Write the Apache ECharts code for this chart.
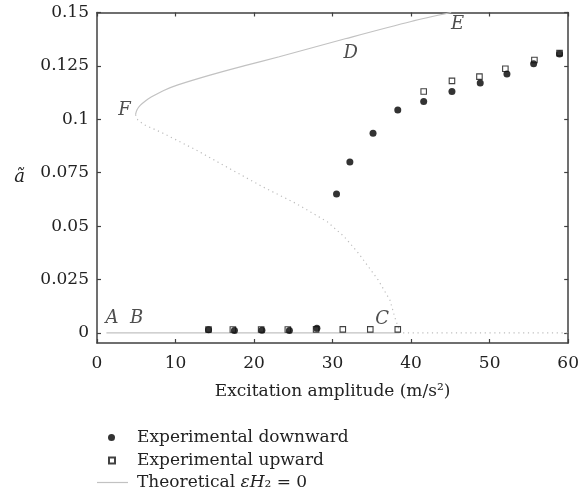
<!DOCTYPE html>
<html>
<head>
<meta charset="utf-8">
<script src="https://cdn.jsdelivr.net/npm/echarts@6/dist/echarts.min.js"></script>
<style>html,body{margin:0;padding:0;background:#fff;}#c{width:582px;height:495px;}</style>
</head>
<body>
<div id="c"></div>
<script>
// ---- data ----
const xTicks = [0, 10, 20, 30, 40, 50, 60];
const yTicks = [0, 0.025, 0.05, 0.075, 0.1, 0.125, 0.15];
const yTickLabels = ['0', '0.025', '0.05', '0.075', '0.1', '0.125', '0.15'];

const downward = [
  [14.2, 0.0015], [17.5, 0.0011], [21.0, 0.0013], [24.5, 0.0011], [28.0, 0.0022],
  [30.5, 0.0651], [32.2, 0.0800], [35.15, 0.0935], [38.3, 0.1044], [41.6, 0.1083],
  [45.2, 0.1130], [48.8, 0.1170], [52.2, 0.1212], [55.6, 0.1260], [58.9, 0.1306]
];
const upward = [
  [14.2, 0.0016], [17.3, 0.0016], [20.9, 0.0016], [24.3, 0.0016], [27.9, 0.0017],
  [31.3, 0.0017], [34.8, 0.0017], [38.3, 0.0017],
  [41.6, 0.1130], [45.2, 0.1180], [48.7, 0.1200], [52.0, 0.1237], [55.7, 0.1278], [58.9, 0.1310]
];
const theoryUpper = [
  [4.9, 0.1022], [5.1, 0.1045], [5.5, 0.1065], [6.2, 0.1087], [6.9, 0.1104], [8.5, 0.1135],
  [10.3, 0.1161], [14.5, 0.1208], [18.7, 0.1250], [23.2, 0.1293], [31.6, 0.1377],
  [40.0, 0.1458], [45.1, 0.1500]
];
const theoryZero = [[1.2, 0], [38.5, 0]];
const theoryUnstable = [
  [4.9, 0.1022], [5.2, 0.0997], [6.0, 0.0975], [8.4, 0.0935], [12.6, 0.0857], [16.8, 0.0771],
  [21.05, 0.0685], [25.3, 0.0607], [29.3, 0.0521], [31.5, 0.0450], [33.3, 0.0373],
  [35.8, 0.0248], [37.3, 0.0154], [37.9, 0.0076], [38.4, 0.0022], [38.5, 0], [60, 0]
];
const pointLabels = [
  ['A', 1.9, 0.0070], ['B', 5.06, 0.0070], ['C', 36.3, 0.0066],
  ['D', 32.3, 0.1310], ['E', 45.9, 0.1446], ['F', 3.5, 0.1044]
];
const names = {
  down: 'Experimental downward',
  up: 'Experimental upward',
  theory: 'Theoretical εH₂ = 0',
  unstable: 'Theoretical (unstable)'
};

// ---- chart ----
const FONT = 'DejaVu Serif';
const TXT = '#222';
const AX = '#404040';
const chart = echarts.init(document.getElementById('c'), null, { renderer: 'canvas' });

const axLine = { show: true, onZero: false, lineStyle: { color: AX, width: 1.5 } };
const tick = { show: true, inside: true, length: 4, lineStyle: { color: AX, width: 1.2 } };
const yMin = -0.0047, yMax = 0.15;

chart.setOption({
  animation: false,
  backgroundColor: '#fff',
  grid: { left: 97, right: 11, top: 12.5, bottom: 152, containLabel: false },
  xAxis: [
    {
      type: 'value', min: 0, max: 60, interval: 10, position: 'bottom',
      axisLine: axLine, axisTick: tick,
      axisLabel: { show: true, margin: 12, color: TXT, fontFamily: FONT, fontSize: 17 },
      splitLine: { show: false },
      name: 'Excitation amplitude (m/s²)', nameLocation: 'middle', nameGap: 40,
      nameTextStyle: { color: TXT, fontFamily: FONT, fontSize: 17 }
    },
    {
      type: 'value', min: 0, max: 60, interval: 10, position: 'top',
      axisLine: axLine, axisTick: tick,
      axisLabel: { show: false }, splitLine: { show: false }
    }
  ],
  yAxis: [
    {
      type: 'value', min: yMin, max: yMax, position: 'left',
      axisLine: axLine,
      axisTick: Object.assign({}, tick, { customValues: yTicks }),
      axisLabel: { show: true, margin: 8, color: TXT, fontFamily: FONT, fontSize: 17,
        customValues: yTicks,
        formatter: function (v) { const i = yTicks.findIndex(t => Math.abs(t - v) < 1e-9); return i >= 0 ? yTickLabels[i] : ''; } },
      splitLine: { show: false },
      name: 'ã', nameLocation: 'middle', nameRotate: 0, nameGap: 72,
      nameTextStyle: { color: TXT, fontFamily: FONT, fontSize: 18, fontStyle: 'italic', padding: [0, 0, 18, 0] }
    },
    {
      type: 'value', min: yMin, max: yMax, position: 'right',
      axisLine: axLine,
      axisTick: Object.assign({}, tick, { customValues: yTicks }),
      axisLabel: { show: false }, splitLine: { show: false }
    }
  ],
  legend: [
    {
      orient: 'vertical', left: 108, top: 429, padding: 0, itemWidth: 7, itemHeight: 7, itemGap: 0,
      data: [{ name: names.down, icon: 'circle' }],
      textStyle: { color: TXT, fontFamily: FONT, fontSize: 17, padding: [0, 0, 0, 17] },
      selectedMode: false
    },
    {
      orient: 'vertical', left: 108, top: 452, padding: 0, itemWidth: 6, itemHeight: 6, itemGap: 0,
      data: [{ name: names.up, icon: 'rect' }],
      textStyle: { color: TXT, fontFamily: FONT, fontSize: 17, padding: [0, 0, 0, 17] },
      selectedMode: false
    },
    {
      orient: 'vertical', left: 97, top: 474, padding: 0, itemWidth: 31, itemHeight: 1.2, itemGap: 0,
      data: [{ name: names.theory, icon: 'rect', itemStyle: { color: '#c2c2c2', borderWidth: 0 } }],
      formatter: function () { return 'Theoretical {i|εH}₂ = 0'; },
      textStyle: { color: TXT, fontFamily: FONT, fontSize: 17, padding: [0, 0, 0, 4],
        rich: { i: { fontFamily: FONT, fontSize: 17, fontStyle: 'italic', color: TXT } } },
      selectedMode: false
    }
  ],
  series: [
    {
      name: names.unstable, type: 'line', data: theoryUnstable, symbol: 'none', z: 1,
      lineStyle: { color: '#bdbdbd', width: 1.2, type: [1.2, 3.6] }, silent: true
    },
    {
      name: names.theory, type: 'line', data: theoryUpper, symbol: 'none', smooth: 0.3, z: 2,
      lineStyle: { color: '#c2c2c2', width: 1.2 }, itemStyle: { color: '#c2c2c2' }
    },
    {
      name: names.theory, type: 'line', data: theoryZero, symbol: 'none', z: 2,
      lineStyle: { color: '#c2c2c2', width: 1.2 }, itemStyle: { color: '#c2c2c2' }
    },
    {
      name: names.down, type: 'scatter', data: downward, symbol: 'circle', symbolSize: 7, z: 3,
      itemStyle: { color: '#000' }
    },
    {
      name: names.up, type: 'scatter', data: upward, symbol: 'rect', symbolSize: 5.5, z: 4,
      itemStyle: { color: 'rgba(0,0,0,0)', borderColor: '#111', borderWidth: 1.1 }
    },
    {
      name: 'labels', type: 'scatter', symbolSize: 0, silent: true, z: 5,
      data: pointLabels.map(p => ({ name: p[0], value: [p[1], p[2]] })),
      label: { show: true, position: 'inside', formatter: '{b}', color: TXT,
        fontFamily: FONT, fontSize: 18, fontStyle: 'italic' }
    }
  ]
});
</script>
</body>
</html>
